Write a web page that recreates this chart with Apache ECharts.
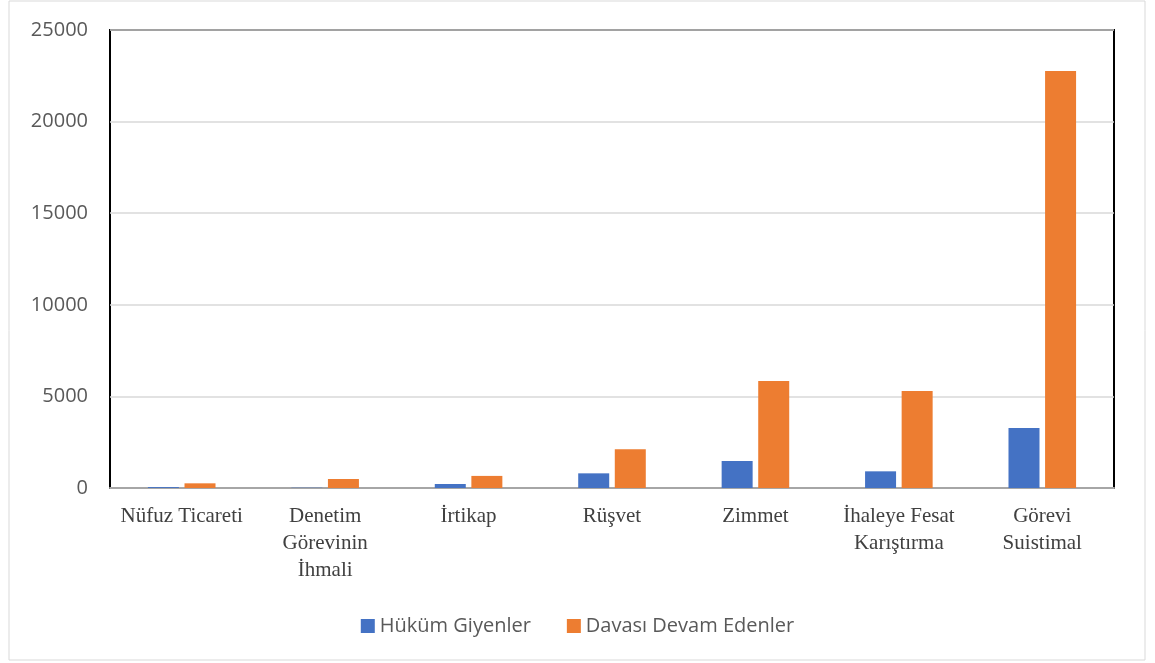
<!DOCTYPE html>
<html>
<head>
    <meta charset="utf-8">
    <title>ECharts</title>
    <script src="https://cdnjs.cloudflare.com/ajax/libs/echarts/6.0.0/echarts.min.js"></script>
</head>
<body style="margin:0;background:#fff;">
<div id="main" style="width: 1155px;height:663px;"></div>
<script type="text/javascript">
    var categories = ['Nüfuz Ticareti', 'Denetim\nGörevinin\nİhmali', 'İrtikap', 'Rüşvet', 'Zimmet', 'İhaleye Fesat\nKarıştırma', 'Görevi\nSuistimal'];
    var hukumGiyenler = [50, 15, 220, 800, 1475, 910, 3275];
    var davasiDevam = [255, 490, 660, 2110, 5840, 5300, 22760];

    var myChart = echarts.init(document.getElementById('main'));
    var option = {
        animation: false,
        color: ['#4472C4', '#ED7D31'],
        graphic: [{
            type: 'rect',
            shape: {x: 9, y: 1, width: 1136, height: 659},
            style: {fill: 'none', stroke: '#d9d9d9', lineWidth: 1}
        }],
        grid: {
            left: 110,
            right: 41,
            top: 30,
            bottom: 175,
            show: true,
            borderColor: '#000',
            borderWidth: 2
        },
        legend: {
            bottom: 22,
            left: 'center',
            itemWidth: 14,
            itemHeight: 14,
            itemGap: 36,
            icon: 'rect',
            textStyle: {
                fontFamily: 'Open Sans',
                fontSize: 20,
                color: '#595959'
            },
            data: ['Hüküm Giyenler', 'Davası Devam Edenler']
        },
        xAxis: {
            type: 'category',
            data: categories,
            axisLine: {lineStyle: {color: '#a6a6a6', width: 2}},
            axisTick: {show: false},
            axisLabel: {
                interval: 0,
                margin: 15,
                fontFamily: 'Liberation Serif',
                fontSize: 21,
                lineHeight: 27,
                color: '#404040'
            }
        },
        yAxis: {
            type: 'value',
            min: 0,
            max: 25000,
            interval: 5000,
            axisLine: {show: false},
            axisTick: {show: false},
            splitLine: {lineStyle: {color: '#d9d9d9', width: 1.5}},
            axisLabel: {
                margin: 22,
                fontFamily: 'Open Sans',
                fontSize: 20,
                color: '#595959',
                formatter: function (v) { return String(v); }
            }
        },
        series: [{
            name: 'Hüküm Giyenler',
            type: 'bar',
            data: hukumGiyenler,
            barWidth: 31,
            barGap: '18%'
        }, {
            name: 'Davası Devam Edenler',
            type: 'bar',
            data: davasiDevam,
            barWidth: 31,
            barGap: '18%'
        }]
    };
    myChart.setOption(option);
</script>
</body>
</html>
